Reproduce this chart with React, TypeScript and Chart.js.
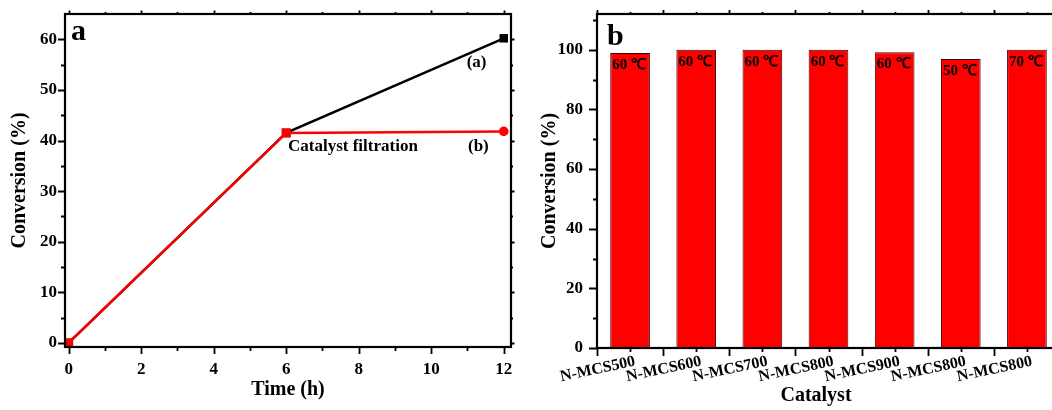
import React, { useEffect, useRef } from 'react';
import { Chart, registerables } from 'chart.js';

Chart.register(...registerables);

// ---------- Panel a data ----------
const timeHours = [0, 6, 12];
const seriesA = [0, 41.5, 60.2]; // (a) catalyst kept
const seriesB = [0, 41.5, 41.8]; // (b) catalyst filtration
const timeTicks = [0, 2, 4, 6, 8, 10, 12];
const timeMinor = [1, 3, 5, 7, 9, 11];
const convTicksA = [0, 10, 20, 30, 40, 50, 60];
const convMinorA = [5, 15, 25, 35, 45, 55];

// ---------- Panel b data ----------
const catalysts = ['N-MCS500', 'N-MCS600', 'N-MCS700', 'N-MCS800', 'N-MCS900', 'N-MCS800', 'N-MCS800'];
const conversions = [98.9, 100, 100, 100, 99.2, 96.9, 100];
const temperatures = ['60 ℃', '60 ℃', '60 ℃', '60 ℃', '60 ℃', '50 ℃', '70 ℃'];
const convTicksB = [0, 20, 40, 60, 80, 100];
const convMinorB = [10, 30, 50, 70, 90, 110];

const FONT = '"Liberation Serif", "Times New Roman", serif';

type FrameOpts = {
  id: string;
  xMajor: number[];
  xMinor: number[];
  yMajor: number[];
  yMinor: number[];
  majorLen: number;
  minorLen: number;
};

function framePlugin(o: FrameOpts) {
  return {
    id: o.id,
    afterDatasetsDraw(chart: any) {
      const { ctx, chartArea: a, scales } = chart;
      const xs = scales.x;
      const ys = scales.y;
      ctx.save();
      ctx.strokeStyle = '#000';
      ctx.lineWidth = 2.2;
      ctx.strokeRect(a.left, a.top, a.right - a.left, a.bottom - a.top);
      ctx.lineWidth = 1.8;
      ctx.beginPath();
      const xt = (vals: number[], len: number) =>
        vals.forEach((v) => {
          const px = Math.round(xs.getPixelForValue(v)) + 0.5;
          ctx.moveTo(px, a.bottom);
          ctx.lineTo(px, a.bottom + len);
          ctx.moveTo(px, a.top);
          ctx.lineTo(px, a.top - len * 0.5);
        });
      const yt = (vals: number[], len: number) =>
        vals.forEach((v) => {
          const py = Math.round(ys.getPixelForValue(v)) + 0.5;
          ctx.moveTo(a.left, py);
          ctx.lineTo(a.left - len, py);
          ctx.moveTo(a.right, py);
          ctx.lineTo(a.right + len * 0.5, py);
        });
      xt(o.xMajor, o.majorLen);
      xt(o.xMinor, o.minorLen);
      yt(o.yMajor, o.majorLen);
      yt(o.yMinor, o.minorLen);
      ctx.stroke();
      ctx.restore();
    },
  };
}

const annotationsA = {
  id: 'annotationsA',
  afterDatasetsDraw(chart: any) {
    const { ctx, chartArea: a, scales } = chart;
    const xs = scales.x;
    const ys = scales.y;
    ctx.save();
    ctx.fillStyle = '#000';
    ctx.font = `bold 30px ${FONT}`;
    ctx.textAlign = 'left';
    ctx.textBaseline = 'alphabetic';
    ctx.fillText('a', a.left + 6, a.top + 26);
    ctx.font = `bold 17px ${FONT}`;
    ctx.textBaseline = 'middle';
    ctx.textAlign = 'center';
    ctx.fillText('(a)', xs.getPixelForValue(11.25), ys.getPixelForValue(55.3));
    ctx.fillText('(b)', xs.getPixelForValue(11.3), ys.getPixelForValue(38.7));
    ctx.textAlign = 'left';
    ctx.fillText('Catalyst filtration', xs.getPixelForValue(6.05), ys.getPixelForValue(38.7));
    ctx.restore();
  },
};

const annotationsB = {
  id: 'annotationsB',
  afterDatasetsDraw(chart: any) {
    const { ctx, chartArea: a } = chart;
    ctx.save();
    ctx.fillStyle = '#000';
    ctx.font = `bold 30px ${FONT}`;
    ctx.textAlign = 'left';
    ctx.textBaseline = 'alphabetic';
    ctx.fillText('b', a.left + 10, a.top + 31);
    const meta = chart.getDatasetMeta(0);
    ctx.font = `bold 15px ${FONT}`;
    ctx.textBaseline = 'middle';
    meta.data.forEach((el: any, i: number) => {
      const left = el.x - el.width / 2;
      ctx.fillText(temperatures[i], left + 2, el.y + 12);
    });
    ctx.font = `bold 20px ${FONT}`;
    ctx.textAlign = 'center';
    ctx.fillText('Catalyst', 286, 396);
    ctx.restore();
  },
};

const setTicks = (vals: number[]) => (scale: any) => {
  scale.ticks = vals.map((v) => ({ value: v }));
};

export default function App() {
  const leftRef = useRef<HTMLCanvasElement>(null);
  const rightRef = useRef<HTMLCanvasElement>(null);

  useEffect(() => {
    Chart.defaults.font.family = FONT;
    Chart.defaults.color = '#000';

    const tickFont = { family: FONT, size: 17, weight: 'bold' as const };
    const titleFont = { family: FONT, size: 20, weight: 'bold' as const };

    const fitX = (h: number) => (s: any) => {
      s.height = h;
      s.paddingLeft = 0;
      s.paddingRight = 0;
      s.paddingTop = 0;
      s.paddingBottom = 0;
    };
    const fitY = (w: number) => (s: any) => {
      s.width = w;
      s.paddingLeft = 0;
      s.paddingRight = 0;
      s.paddingTop = 0;
      s.paddingBottom = 0;
    };

    const c1 = new Chart(leftRef.current!, {
      type: 'line',
      data: {
        datasets: [
          {
            label: '(b)',
            data: timeHours.map((t, i) => ({ x: t, y: seriesB[i] })),
            borderColor: '#ff0000',
            backgroundColor: '#ff0000',
            borderWidth: 2.5,
            pointStyle: ['rect', 'rect', 'circle'] as any,
            pointRadius: [6.5, 6.5, 4.8] as any,
            pointBorderWidth: 0,
          },
          {
            label: '(a)',
            data: timeHours.map((t, i) => ({ x: t, y: seriesA[i] })),
            borderColor: '#000000',
            backgroundColor: '#000000',
            borderWidth: 2.5,
            pointStyle: 'rect',
            pointRadius: 6,
            pointBorderWidth: 0,
          },
        ],
      },
      options: {
        responsive: false,
        animation: false,
        devicePixelRatio: 1,
        layout: { padding: { left: 0, top: 14, right: 19, bottom: 0 } },
        plugins: { legend: { display: false }, tooltip: { enabled: false } },
        scales: {
          x: {
            type: 'linear',
            min: -0.1,
            max: 12.2,
            afterBuildTicks: setTicks(timeTicks),
            afterFit: fitX(63),
            grid: { display: false, drawTicks: false },
            border: { display: false },
            ticks: { font: tickFont, padding: 12, color: '#000' },
            title: { display: true, text: 'Time (h)', font: titleFont, color: '#000', padding: { top: 0, bottom: 8 } },
          },
          y: {
            type: 'linear',
            min: -0.8,
            max: 65,
            afterBuildTicks: setTicks(convTicksA),
            afterFit: fitY(65),
            grid: { display: false, drawTicks: false },
            border: { display: false },
            ticks: { font: tickFont, padding: 8, color: '#000' },
            title: { display: true, text: 'Conversion (%)', font: titleFont, color: '#000', padding: { top: 8, bottom: 0 } },
          },
        },
      },
      plugins: [
        framePlugin({
          id: 'frameA',
          xMajor: timeTicks,
          xMinor: timeMinor,
          yMajor: convTicksA,
          yMinor: convMinorA,
          majorLen: 7,
          minorLen: 4,
        }),
        annotationsA,
      ],
    } as any);

    const c2 = new Chart(rightRef.current!, {
      type: 'bar',
      data: {
        labels: catalysts,
        datasets: [
          {
            label: 'Conversion',
            data: conversions,
            backgroundColor: '#ff0000',
            borderColor: '#3a0000',
            borderWidth: 1,
            borderSkipped: 'start',
            categoryPercentage: 1,
            barPercentage: 0.6,
          },
        ],
      },
      options: {
        responsive: false,
        animation: false,
        devicePixelRatio: 1,
        layout: { padding: { left: 0, top: 14, right: 12, bottom: 0 } },
        plugins: { legend: { display: false }, tooltip: { enabled: false } },
        scales: {
          x: {
            type: 'category',
            offset: true,
            afterFit: fitX(62),
            grid: { display: false, drawTicks: false },
            border: { display: false },
            ticks: {
              font: { family: FONT, size: 16, weight: 'bold' },
              color: '#000',
              padding: 4,
              labelOffset: 5,
              autoSkip: false,
              minRotation: 12,
              maxRotation: 12,
            },
          },
          y: {
            type: 'linear',
            min: 0,
            max: 112,
            afterBuildTicks: setTicks(convTicksB),
            afterFit: fitY(67),
            grid: { display: false, drawTicks: false },
            border: { display: false },
            ticks: { font: tickFont, padding: 14, color: '#000' },
            title: { display: true, text: 'Conversion (%)', font: titleFont, color: '#000', padding: { top: 8, bottom: 0 } },
          },
        },
      },
      plugins: [
        framePlugin({
          id: 'frameB',
          xMajor: [-0.5, 0.5, 1.5, 2.5, 3.5, 4.5, 5.5, 6.5],
          xMinor: [0, 1, 2, 3, 4, 5, 6],
          yMajor: convTicksB,
          yMinor: convMinorB,
          majorLen: 8,
          minorLen: 4,
        }),
        annotationsB,
      ],
    } as any);

    return () => {
      c1.destroy();
      c2.destroy();
    };
  }, []);

  return (
    <div
      style={{
        position: 'fixed',
        left: 0,
        top: 0,
        width: 1052,
        height: 410,
        overflow: 'hidden',
        background: '#fff',
      }}
    >
      <canvas
        ref={leftRef}
        width={530}
        height={410}
        style={{ position: 'absolute', left: 0, top: 0, width: 530, height: 410 }}
      />
      <canvas
        ref={rightRef}
        width={542}
        height={410}
        style={{ position: 'absolute', left: 530, top: 0, width: 542, height: 410 }}
      />
    </div>
  );
}
